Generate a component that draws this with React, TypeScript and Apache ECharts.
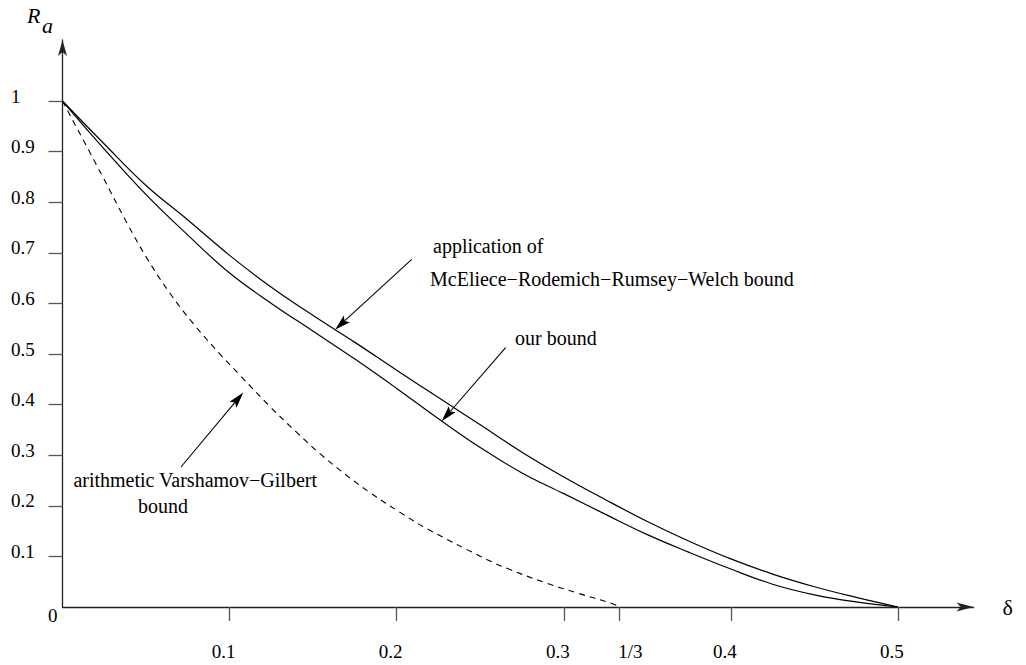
import React, { useEffect, useRef } from 'react';
import * as echarts from 'echarts';

// arithmetic Varshamov-Gilbert bound (dashed)
const deltaVG = [0, 0.0235, 0.0384, 0.0504, 0.0643, 0.0783, 0.0942, 0.1062, 0.1242, 0.1402, 0.1541, 0.1701, 0.1841, 0.202, 0.218, 0.2539, 0.2678, 0.2898, 0.3077, 0.3296, 0.3333];
const rateVG = [1, 0.854, 0.76, 0.69, 0.62, 0.56, 0.5, 0.458, 0.396, 0.345, 0.303, 0.26, 0.226, 0.187, 0.155, 0.094, 0.074, 0.047, 0.028, 0.006, 0];

// application of McEliece-Rodemich-Rumsey-Welch bound (upper solid)
const deltaMRRW = [0, 0.025, 0.05, 0.075, 0.1, 0.125, 0.15, 0.175, 0.2, 0.225, 0.25, 0.275, 0.3, 0.325, 0.35, 0.375, 0.4, 0.425, 0.45, 0.475, 0.5];
const rateMRRW = [1, 0.915, 0.833, 0.765, 0.695, 0.632, 0.576, 0.523, 0.468, 0.414, 0.36, 0.306, 0.257, 0.212, 0.169, 0.13, 0.095, 0.065, 0.04, 0.019, 0];

// our bound (lower solid)
const deltaOur = [0, 0.025, 0.05, 0.075, 0.1, 0.125, 0.15, 0.175, 0.2, 0.225, 0.25, 0.275, 0.3, 0.325, 0.35, 0.375, 0.4, 0.425, 0.45, 0.475, 0.5];
const rateOur = [1, 0.905, 0.815, 0.735, 0.66, 0.6, 0.545, 0.49, 0.432, 0.372, 0.315, 0.265, 0.224, 0.183, 0.143, 0.108, 0.075, 0.045, 0.024, 0.01, 0];

const xTickValues = [0.1, 0.2, 0.3, 1 / 3, 0.4, 0.5];
const xTickLabels = ['0.1', '0.2', '0.3', '1/3', '0.4', '0.5'];
const yTickValues = [0.1, 0.2, 0.3, 0.4, 0.5, 0.6, 0.7, 0.8, 0.9, 1];
const yLabelValues = [0, 0.1, 0.2, 0.3, 0.4, 0.5, 0.6, 0.7, 0.8, 0.9, 1];
const yTickLabels = ['0', '0.1', '0.2', '0.3', '0.4', '0.5', '0.6', '0.7', '0.8', '0.9', '1'];

// annotation arrows: [fromDelta, fromRate, tipDelta, tipRate]
const arrowMRRW = [0.209, 0.687, 0.1631, 0.548];
const arrowOur = [0.2652, 0.5125, 0.2269, 0.367];
const arrowVG = [0.0709, 0.2767, 0.1082, 0.424];

const FONT = '"Liberation Serif", "Times New Roman", Times, serif';

function zip(xs: number[], ys: number[]) {
  return xs.map((x, i) => [x, ys[i]]);
}

function idx(values: number[], v: number) {
  return values.findIndex((a) => Math.abs(a - v) < 1e-6);
}

function arrowGraphic(chart: any, a: number[]) {
  const p0 = chart.convertToPixel({ gridIndex: 0 }, [a[0], a[1]]);
  const p1 = chart.convertToPixel({ gridIndex: 0 }, [a[2], a[3]]);
  const dx = p1[0] - p0[0];
  const dy = p1[1] - p0[1];
  const len = Math.sqrt(dx * dx + dy * dy);
  const ux = dx / len;
  const uy = dy / len;
  const nx = -uy;
  const ny = ux;
  const L = 16;
  const W = 4.5;
  const notch = 3;
  const bx = p1[0] - ux * L;
  const by = p1[1] - uy * L;
  return [
    {
      type: 'line',
      shape: { x1: p0[0], y1: p0[1], x2: p1[0] - ux * (L - notch), y2: p1[1] - uy * (L - notch) },
      style: { stroke: '#000', lineWidth: 1.1 },
    },
    {
      type: 'polygon',
      shape: {
        points: [
          [p1[0], p1[1]],
          [bx + nx * W, by + ny * W],
          [p1[0] - ux * (L - notch), p1[1] - uy * (L - notch)],
          [bx - nx * W, by - ny * W],
        ],
      },
      style: { fill: '#000' },
    },
  ];
}

export default function App() {
  const ref = useRef<HTMLDivElement>(null);
  useEffect(() => {
    if (!ref.current) return;
    const chart = echarts.init(ref.current, null, { renderer: 'svg' });
    const option: any = {
      animation: false,
      backgroundColor: '#fff',
      grid: { left: 62.5, right: 52.5, top: 40, bottom: 58, containLabel: false, outerBoundsMode: 'none' },
      xAxis: {
        type: 'value',
        min: 0,
        max: 0.5452,
        name: 'δ',
        nameLocation: 'end',
        nameGap: 29,
        nameTextStyle: { fontFamily: FONT, fontSize: 22, color: '#000', verticalAlign: 'middle' },
        axisLine: { show: true, onZero: false, symbol: ['none', 'arrow'], symbolSize: [6.75, 17], lineStyle: { color: '#222', width: 1.3 } },
        axisTick: { show: true, length: 14, inside: false, customValues: xTickValues, lineStyle: { color: '#555', width: 1.3 } },
        axisLabel: {
          show: true,
          customValues: xTickValues,
          margin: 35,
          fontFamily: FONT,
          fontSize: 19,
          color: '#000',
          formatter: (v: number) => {
            const i = idx(xTickValues, v);
            if (i < 0) return '';
            const s = xTickLabels[i];
            return s === '1/3' ? '{t|' + s + '}' : '{n|' + s + '}';
          },
          rich: {
            n: { fontFamily: FONT, fontSize: 19, color: '#000', padding: [0, 12, 0, 0] },
            t: { fontFamily: FONT, fontSize: 19, color: '#000', padding: [0, 0, 0, 22] },
          },
        },
        splitLine: { show: false },
      },
      yAxis: {
        type: 'value',
        min: 0,
        max: 1.1206,
        axisLine: { show: true, onZero: false, symbol: ['none', 'arrow'], symbolSize: [6.75, 16], lineStyle: { color: '#222', width: 1.3 } },
        axisTick: { show: true, length: 14, inside: false, customValues: yTickValues, lineStyle: { color: '#555', width: 1.3 } },
        axisLabel: {
          show: true,
          customValues: yLabelValues,
          margin: 51.5,
          align: 'left',
          padding: [0, 0, 10, 0],
          fontFamily: FONT,
          fontSize: 19,
          color: '#000',
          formatter: (v: number) => {
            const i = idx(yLabelValues, v);
            if (i < 0) return '';
            const s = yTickLabels[i];
            return s === '0' ? '{z|' + s + '}' : '{n|' + s + '}';
          },
          rich: {
            n: { fontFamily: FONT, fontSize: 19, color: '#000' },
            z: { fontFamily: FONT, fontSize: 19, color: '#000', padding: [26, 0, 0, 37] },
          },
        },
        splitLine: { show: false },
      },
      series: [
        {
          name: 'arithmetic Varshamov−Gilbert bound',
          type: 'line',
          data: zip(deltaVG, rateVG),
          smooth: 0.4,
          showSymbol: false,
          lineStyle: { color: '#000', width: 1.1, type: [6, 5] },
        },
        {
          name: 'application of McEliece−Rodemich−Rumsey−Welch bound',
          type: 'line',
          data: zip(deltaMRRW, rateMRRW),
          smooth: 0.4,
          showSymbol: false,
          lineStyle: { color: '#000', width: 1.2 },
        },
        {
          name: 'our bound',
          type: 'line',
          data: zip(deltaOur, rateOur),
          smooth: 0.4,
          showSymbol: false,
          lineStyle: { color: '#000', width: 1.2 },
        },
      ],
    };
    chart.setOption(option);

    const textStyle = (t: string, extra: any = {}) => ({
      text: t,
      fontFamily: FONT,
      fontSize: 20,
      fill: '#000',
      verticalAlign: 'middle',
      ...extra,
    });

    const graphics: any[] = [
      ...arrowGraphic(chart, arrowMRRW),
      ...arrowGraphic(chart, arrowOur),
      ...arrowGraphic(chart, arrowVG),
      { type: 'text', x: 433, y: 246, style: textStyle('application of') },
      { type: 'text', x: 430, y: 279, style: textStyle('McEliece−Rodemich−Rumsey−Welch bound') },
      { type: 'text', x: 515, y: 338, style: textStyle('our bound') },
      { type: 'text', x: 317, y: 480, style: textStyle('arithmetic Varshamov−Gilbert', { align: 'right' }) },
      { type: 'text', x: 163, y: 506, style: textStyle('bound', { align: 'center' }) },
      { type: 'text', x: 27, y: 15.6, style: textStyle('R', { fontSize: 22, fontStyle: 'italic' }) },
      { type: 'text', x: 42, y: 25.6, style: textStyle('a', { fontSize: 22, fontStyle: 'italic' }) },
    ];
    chart.setOption({ graphic: graphics });

    return () => chart.dispose();
  }, []);
  return (
    <div
      ref={ref}
      style={{ position: 'fixed', left: 0, top: 0, width: 1026, height: 665, background: '#fff' }}
    />
  );
}
